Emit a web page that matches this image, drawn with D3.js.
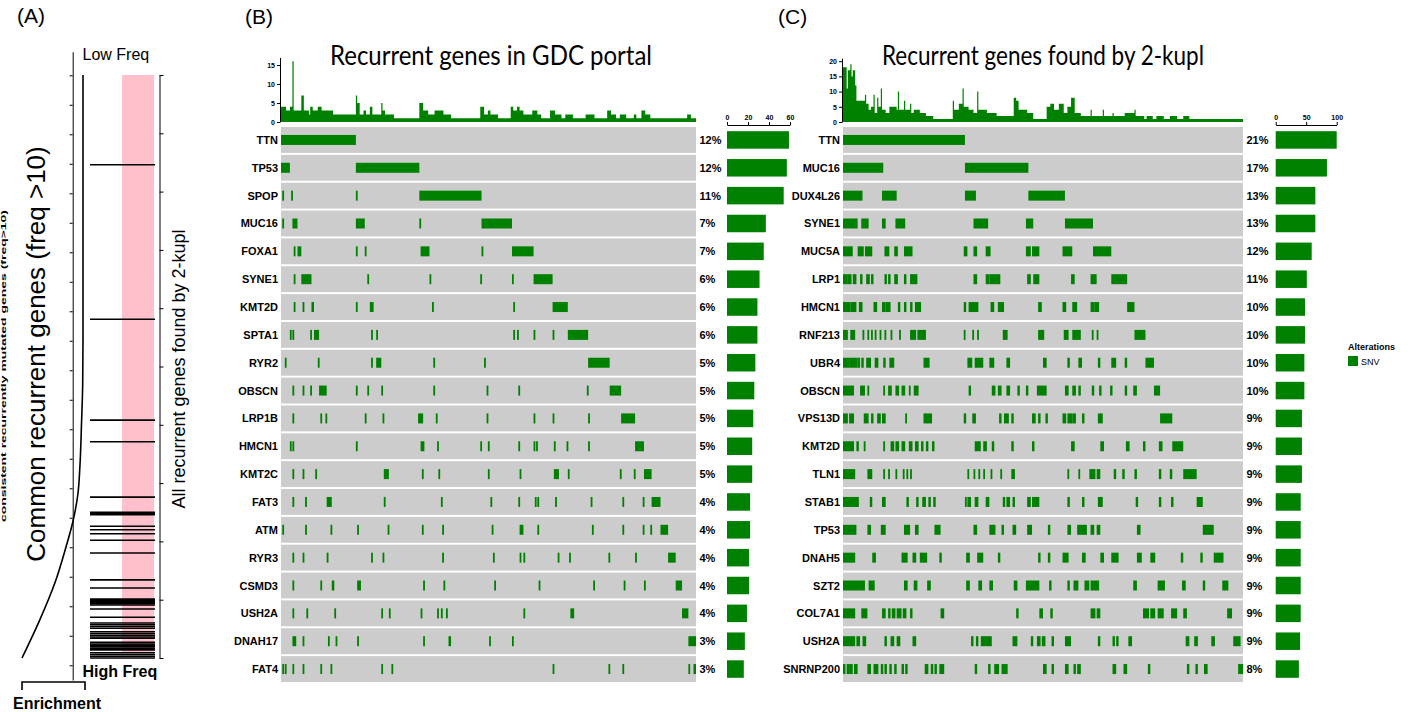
<!DOCTYPE html>
<meta charset="utf-8">
<style>
  body { margin: 0; background: #fff; }
  text { font-family: "Liberation Sans", Arial, sans-serif; fill: #000; }
  .gene, .pct { font-size: 11px; font-weight: bold; }
  .title { font-family: Lato, "Open Sans", sans-serif; font-size: 26px; }
  .panel { font-size: 21px; }
  .axis text { font-size: 7px; font-weight: bold; font-family: "Liberation Sans", Arial, sans-serif; }
  .axis path, .axis line { stroke: #000; }
</style>

<body>
  <script src="https://d3js.org/d3.v7.min.js"></script>
  <script>

    // ---------- panel B : recurrent genes in GDC portal ----------
    var nB = 327;   // altered samples shown
    var genesB = ["TTN", "TP53", "SPOP", "MUC16", "FOXA1", "SYNE1", "KMT2D", "SPTA1", "RYR2", "OBSCN",
      "LRP1B", "HMCN1", "KMT2C", "FAT3", "ATM", "RYR3", "CSMD3", "USH2A", "DNAH17", "FAT4"];
    var pctB = ["12%", "12%", "11%", "7%", "7%", "6%", "6%", "6%", "5%", "5%",
      "5%", "5%", "5%", "4%", "4%", "4%", "4%", "4%", "3%", "3%"];
    var countB = [59, 57, 54, 37, 35, 31, 29, 29, 27, 26, 25, 24, 24, 22, 22, 21, 21, 19, 17, 16];
    // mutated samples per gene: single index or [from, to]
    var mutB = [
      [[0, 58]],
      [[0, 6], [59, 108]],
      [1, 8, 59, [109, 157]],
      [1, [9, 12], [59, 65], 109, [158, 181]],
      [10, [13, 15], 59, 66, [110, 116], 158, [182, 198]],
      [10, [16, 23], 68, 117, 157, 182, [199, 213]],
      [10, 17, [24, 25], 59, [70, 72], 119, 183, [214, 225]],
      [7, 9, 23, [26, 29], 71, 75, 183, 186, 199, 214, [226, 241]],
      [3, 29, 71, [75, 78], 120, 160, [242, 258]],
      [9, 17, 23, [30, 35], 59, 68, 79, 120, 162, 187, 241, [259, 267]],
      [9, 31, 35, 66, 80, [108, 111], 122, 162, 199, 214, 242, [268, 278]],
      [7, 9, 59, [110, 112], 123, 157, 163, 187, 199, 201, 215, 225, 242, [279, 285]],
      [9, 17, 27, [81, 84], 111, 124, 163, 188, [215, 218], 226, 267, 278, [286, 291]],
      [9, 19, [36, 39], 81, 126, 165, 187, 200, 202, 216, 244, 269, 285, [292, 298]],
      [1, 19, 39, 60, 84, 111, 127, 166, [188, 190], 202, 245, 269, 285, 291, [299, 304]],
      [9, 17, 36, 71, 80, 127, 167, 188, 191, 218, 227, 258, 279, [305, 310]],
      [9, 31, [40, 41], [60, 62], 112, 128, 168, 203, 246, 270, 286, [311, 315]],
      [9, 20, 42, 79, 85, 110, 123, 126, 130, 191, [228, 230], [316, 320]],
      [[9, 11], 17, 37, 43, 60, 112, [132, 133], 164, 182, [321, 326]],
      [1, 3, 9, 17, 31, 39, 79, 87, 214, 258, 269, 321, [325, 326]]
    ];
    // alterations per sample: [from, to, count]; samples not listed carry 1
    var histB = [
      [0, 3, 4], [4, 6, 3], [7, 8, 4], [9, 9, 16], [10, 15, 3], [16, 17, 7], [18, 21, 3], [22, 22, 2],
      [23, 24, 4], [25, 28, 3], [29, 31, 4], [32, 40, 3], [41, 58, 2], [59, 59, 7], [60, 61, 5],
      [62, 64, 2], [65, 66, 3], [67, 69, 2], [70, 71, 4], [72, 78, 2], [79, 79, 5], [80, 81, 3],
      [82, 88, 2], [109, 111, 5], [112, 115, 3], [116, 120, 2], [121, 127, 3], [128, 133, 2],
      [157, 159, 4], [160, 162, 2], [163, 164, 3], [165, 170, 2], [181, 182, 4], [183, 185, 3],
      [186, 187, 4], [188, 190, 3], [191, 197, 2], [198, 201, 3], [202, 204, 2], [212, 215, 3],
      [216, 220, 2], [224, 229, 2], [240, 246, 2], [257, 259, 3], [260, 263, 2], [267, 271, 2],
      [278, 279, 2], [284, 286, 3], [287, 290, 2], [320, 322, 2]
    ];

    // ---------- panel C : recurrent genes found by 2-kupl ----------
    var nC = 328;
    var genesC = ["TTN", "MUC16", "DUX4L26", "SYNE1", "MUC5A", "LRP1", "HMCN1", "RNF213", "UBR4", "OBSCN",
      "VPS13D", "KMT2D", "TLN1", "STAB1", "TP53", "DNAH5", "SZT2", "COL7A1", "USH2A", "SNRNP200"];
    var pctC = ["21%", "17%", "13%", "13%", "12%", "11%", "10%", "10%", "10%", "10%",
      "9%", "9%", "9%", "9%", "9%", "9%", "9%", "9%", "9%", "8%"];
    var countC = [100, 84, 65, 65, 59, 51, 48, 48, 47, 47, 43, 43, 43, 41, 41, 41, 41, 41, 40, 38];
    var mutC = [
      [[0, 99]],
      [[0, 32], [100, 151]],
      [[0, 15], [32, 43], [100, 108], [152, 181]],
      [[0, 11], [15, 20], [32, 34], [43, 50], [107, 118], [150, 155], [182, 204]],
      [[0, 7], [12, 16], [18, 23], [34, 37], [42, 44], [50, 56], [99, 101], [107, 109], [117, 120],
        [150, 153], [155, 160], [180, 187], [205, 219]],
      [[0, 3], [4, 6], [8, 10], [14, 15], [19, 21], [23, 24], [34, 35], [37, 38], [42, 44], [50, 51],
        [55, 60], [107, 109], [117, 119], [120, 128], [151, 153], [156, 160], [187, 189], [203, 207], [220, 232]],
      [[0, 5], [6, 10], [13, 15], [25, 27], [32, 34], [35, 38], [45, 46], [50, 51], [55, 56], [59, 63],
        [99, 100], [103, 110], [121, 123], [127, 131], [160, 162], [180, 182], [188, 191], [203, 205],
        [206, 209], [233, 238]],
      [[0, 3], [6, 9], 16, 20, 23, 26, 30, 34, 39, 46, [55, 59], [61, 67], 99, 106, 110, [131, 134],
        [160, 164], [181, 184], [188, 194], 204, 208, [239, 247]],
      [[0, 4], [5, 8], [9, 11], [12, 13], [15, 16], [19, 22], [26, 28], [33, 34], [38, 41], [66, 70],
        [102, 105], [108, 114], [120, 123], [134, 136], [164, 166], [184, 185], [193, 195], [209, 210],
        [220, 223], [231, 232], [248, 254]],
      [[0, 8], [14, 17], 20, 33, [37, 39], [43, 45], [48, 50], 54, [58, 61], [103, 104], [122, 124],
        [127, 129], [134, 136], [143, 144], [150, 151], [159, 166], [182, 184], [188, 190], [193, 194],
        [204, 205], [210, 211], [219, 220], [231, 232], [238, 240], [255, 259]],
      [[0, 3], [5, 8], [17, 20], [23, 24], [28, 30], [32, 34], 51, [66, 72], [99, 100], [106, 108],
        [128, 129], [132, 135], [138, 139], [155, 157], [160, 161], [166, 167], [180, 182], [184, 187],
        [188, 190], [196, 197], [209, 212], [260, 269]],
      [[0, 8], [11, 12], 17, 33, [39, 41], [43, 45], [48, 50], [54, 56], [59, 61], [64, 65], [68, 69],
        [73, 74], [108, 112], [115, 117], [122, 123], [138, 139], [155, 156], [187, 189], [211, 213],
        [232, 234], [246, 247], [259, 261], [270, 278]],
      [[0, 9], [20, 23], 33, 37, 43, 49, 52, 55, 102, 107, 111, 115, 121, 129, [138, 140], 184, 193,
        [202, 206], [208, 210], [222, 223], [229, 230], [239, 240], [259, 260], [268, 269], [279, 289]],
      [[0, 12], [22, 23], [32, 34], [52, 53], [60, 61], [65, 67], [70, 71], [74, 75], 100, [102, 104],
        [108, 110], [117, 119], [131, 132], [134, 136], [139, 140], [151, 153], [155, 160], [184, 185],
        [196, 197], [209, 212], [240, 241], [259, 260], [269, 270], [290, 294]],
      [[0, 10], [20, 22], [31, 34], [50, 54], [59, 61], [75, 79], [107, 109], [120, 124], [130, 131],
        [139, 141], [151, 154], [168, 169], [184, 186], [192, 199], [203, 205], [208, 210], [241, 243],
        [295, 303]],
      [[0, 9], [24, 26], [48, 52], [57, 59], [63, 68], [79, 80], [101, 103], [110, 114], [127, 128],
        [160, 161], [168, 169], [180, 184], [196, 198], [211, 213], [220, 225], [241, 244], [252, 255],
        [277, 278], [293, 294], [304, 311]],
      [[0, 17], [21, 25], [50, 52], [58, 60], [69, 71], [101, 103], [111, 113], [120, 122], [140, 142],
        [150, 154], [155, 160], [169, 170], [184, 185], [189, 192], [198, 201], [203, 209], [238, 240],
        [258, 263], [278, 280], [295, 296], [311, 315]],
      [[0, 9], [15, 19], [32, 34], [37, 38], [40, 42], [44, 47], [49, 51], [55, 56], [80, 82],
        [142, 143], [161, 163], [170, 171], [203, 206], [208, 210], [246, 250], [252, 255], [258, 262],
        [269, 273], [279, 281], [315, 318]],
      [[0, 9], [11, 13], [16, 18], [34, 35], [39, 41], [44, 46], [57, 59], [105, 106], [109, 110],
        [113, 121], [139, 142], [154, 155], [159, 161], [163, 165], [171, 172], [182, 186], [209, 210],
        [221, 222], [224, 225], [234, 236], [281, 283], [288, 290], [302, 304], [320, 325]],
      [[0, 1], [3, 4], [5, 7], [9, 11], [20, 22], [25, 28], [31, 32], [34, 35], [38, 39], [42, 43],
        [48, 49], [51, 52], [67, 69], [72, 73], [75, 76], [79, 82], [108, 109], [119, 120], [124, 127],
        [130, 134], [164, 166], [171, 172], [182, 184], [189, 190], [192, 194], [221, 223], [230, 232],
        [250, 251], [282, 283], [289, 290], [296, 298], [324, 327]]
    ];
    var histC = [
      [0, 2, 18], [3, 3, 11], [4, 5, 17], [6, 6, 19], [7, 7, 15], [8, 9, 17], [10, 10, 12], [11, 14, 7],
      [15, 17, 7], [18, 18, 9], [19, 20, 6], [21, 22, 4], [23, 24, 5], [25, 25, 9], [26, 27, 3],
      [28, 28, 8], [29, 30, 5], [31, 31, 11], [32, 34, 4], [35, 37, 3], [38, 43, 5], [44, 44, 4],
      [45, 45, 10], [46, 49, 4], [50, 50, 7], [51, 54, 4], [55, 55, 6], [56, 57, 3], [58, 62, 4],
      [63, 67, 3], [68, 73, 2], [90, 90, 7], [91, 94, 4], [95, 97, 6], [98, 98, 11], [99, 102, 5],
      [103, 106, 4], [107, 109, 3], [110, 110, 10], [111, 117, 4], [118, 125, 3], [126, 139, 2],
      [140, 141, 8], [142, 143, 7], [144, 150, 4], [151, 155, 3], [167, 169, 5], [170, 172, 6],
      [173, 176, 4], [177, 180, 6], [181, 183, 3], [184, 186, 5], [187, 189, 8], [190, 194, 3],
      [195, 202, 2], [203, 203, 4], [204, 212, 2], [213, 213, 4], [214, 220, 2], [221, 221, 3],
      [222, 230, 2], [231, 238, 3], [239, 239, 4], [240, 246, 2], [249, 253, 2], [257, 262, 2],
      [268, 273, 2], [279, 283, 2]
    ];

    // ---------- panel A : enrichment of common recurrent genes ----------
    // running enrichment along the 2-kupl ranking (rank out of 1000)
    var curveRank = [0, 455, 530, 600, 670, 720, 768, 810, 871, 935, 1000];
    var curveScore = [1, 1, 0.995, 0.975, 0.95, 0.915, 0.83, 0.72, 0.54, 0.29, 0];
    // ranks of common recurrent genes in the 2-kupl list
    var hitRank = [154, 419, 592, 629, 724, 750, 752, 754, 774, 780, 787, 798, 820, 866, 880,
      899, 901, 903, 905, 907, 909, 916, 930, 940, 943, 946, 949, 955, 958, 961, 964, 966,
      973, 976, 978, 981, 984, 986, 991, 994, 997, 1000];

    var green = "#008000", grey = "#cccccc";

    var svg = d3.select("body").append("svg")
      .attr("width", 1416)
      .attr("height", 712);

    function segs(list) {
      return list.map(function (d) { return Array.isArray(d) ? d : [d, d]; });
    }

    function oncoprint(o) {
      var x = d3.scaleBand().domain(d3.range(o.n)).range([o.x0, o.x1]);
      var bw = x.bandwidth();
      var y = d3.scaleBand().domain(d3.range(o.genes.length)).range([127, 682]).paddingInner(0.07);
      var g = svg.append("g");

      // rows
      g.selectAll("rect.row").data(o.genes).enter().append("rect")
        .attr("x", o.x0).attr("width", o.x1 - o.x0)
        .attr("y", function (d, i) { return y(i); })
        .attr("height", y.bandwidth())
        .attr("fill", grey);

      o.muts.forEach(function (list, i) {
        g.selectAll(null).data(segs(list)).enter().append("rect")
          .attr("x", function (d) { return x(d[0]); })
          .attr("width", function (d) { return Math.max(x(d[1]) + bw - x(d[0]), 1.8); })
          .attr("y", y(i) + (y.bandwidth() - 10) / 2)
          .attr("height", 10)
          .attr("fill", green);
      });

      // gene names and percentages
      g.selectAll("text.gene").data(o.genes).enter().append("text")
        .attr("class", "gene")
        .attr("x", o.x0 - 3)
        .attr("y", function (d, i) { return y(i) + y.bandwidth() / 2 + 4; })
        .attr("text-anchor", "end")
        .text(function (d) { return d; });
      g.selectAll("text.pct").data(o.pct).enter().append("text")
        .attr("class", "pct")
        .attr("x", o.x1 + 3.5)
        .attr("y", function (d, i) { return y(i) + y.bandwidth() / 2 + 4; })
        .text(function (d) { return d; });

      // right bar chart
      var xb = d3.scaleLinear().domain([0, o.barMax]).range([o.bx, o.bx1]);
      g.selectAll("rect.bar").data(o.counts).enter().append("rect")
        .attr("x", xb(0))
        .attr("width", function (d) { return xb(d) - xb(0); })
        .attr("y", function (d, i) { return y(i) + (y.bandwidth() - 17.5) / 2; })
        .attr("height", 17.5)
        .attr("fill", green);
      g.append("g").attr("class", "axis")
        .attr("transform", "translate(0,125)")
        .call(d3.axisTop(xb).tickValues(o.barTicks).tickSize(3).tickSizeOuter(0).tickPadding(2));

      // top histogram, drawn as a step area so the bars join up
      var vals = d3.range(o.n).map(function () { return 1; });
      o.hist.forEach(function (h) { for (var k = h[0]; k <= h[1]; k++) vals[k] = h[2]; });
      vals.push(vals[o.n - 1]);
      var yh = d3.scaleLinear().domain([0, o.histMax]).range([122, 122 - o.histMax * o.unit]);
      var area = d3.area()
        .x(function (d, i) { return i < o.n ? x(i) : o.x1; })
        .y0(yh(0))
        .y1(function (d) { return yh(d); })
        .curve(d3.curveStepAfter);
      g.append("path").datum(vals).attr("d", area).attr("fill", green);
      g.append("g").attr("class", "axis")
        .attr("transform", "translate(" + (o.x0 - 1) + ",0)")
        .call(d3.axisLeft(yh).tickValues(o.histTicks).tickSize(3).tickSizeOuter(0).tickPadding(2));

      svg.append("text").attr("class", "title")
        .attr("x", o.titleX).attr("y", 65)
        .attr("textLength", 322).attr("lengthAdjust", "spacingAndGlyphs")
        .text(o.title);
      svg.append("text").attr("class", "panel")
        .attr("x", o.labelX).attr("y", 24)
        .text(o.label);
    }

    oncoprint({
      n: nB, genes: genesB, muts: mutB, pct: pctB, counts: countB, hist: histB,
      x0: 281, x1: 696, bx: 727, bx1: 790, barMax: 60, barTicks: [0, 20, 40, 60],
      histMax: 17, unit: 3.8, histTicks: [0, 5, 10, 15],
      title: "Recurrent genes in GDC portal", titleX: 330, label: "(B)", labelX: 245
    });
    oncoprint({
      n: nC, genes: genesC, muts: mutC, pct: pctC, counts: countC, hist: histC,
      x0: 843, x1: 1243, bx: 1275.7, bx1: 1336.7, barMax: 100, barTicks: [0, 50, 100],
      histMax: 21, unit: 3.04, histTicks: [0, 5, 10, 15, 20],
      title: "Recurrent genes found by 2-kupl", titleX: 882, label: "(C)", labelX: 778
    });

    // legend
    svg.append("text").attr("x", 1348).attr("y", 350)
      .style("font-size", "9px").style("font-weight", "bold").text("Alterations");
    svg.append("rect").attr("x", 1348).attr("y", 356).attr("width", 10).attr("height", 10).attr("fill", green);
    svg.append("text").attr("x", 1361).attr("y", 365).style("font-size", "9px").text("SNV");

    // ---------- panel A drawing ----------
    var a = svg.append("g");
    var yA = d3.scaleLinear().domain([0, 1000]).range([75, 658]);
    var xA = d3.scaleLinear().domain([0, 1]).range([22, 83]);

    a.append("text").attr("class", "panel").attr("x", 17).attr("y", 23).text("(A)");

    // pink band and barcode
    a.append("rect").attr("x", 122).attr("width", 32)
      .attr("y", yA(0)).attr("height", yA(990) - yA(0))
      .attr("fill", "#ffc0cb");
    a.selectAll("line.hit").data(hitRank).enter().append("line")
      .attr("x1", 90).attr("x2", 155)
      .attr("y1", function (d) { return yA(d); })
      .attr("y2", function (d) { return yA(d); })
      .attr("stroke", "#000").attr("stroke-width", 1.6);

    // right rank axis
    a.append("g").attr("class", "axis")
      .attr("transform", "translate(159.5,0)")
      .call(d3.axisRight(yA).tickValues(d3.range(0, 1001, 100)).tickSize(4).tickSizeOuter(0).tickFormat(""));

    // left axis of the common genes
    var yL = d3.scaleLinear().domain([-0.8, 20.5]).range([51.7, 680]);
    a.append("g").attr("class", "axis")
      .attr("transform", "translate(72.7,0)")
      .call(d3.axisLeft(yL).tickValues(d3.range(0, 21)).tickSize(3).tickSizeOuter(0).tickFormat(""));

    // enrichment curve
    var line = d3.line()
      .x(function (d, i) { return xA(curveScore[i]); })
      .y(function (d) { return yA(d); })
      .curve(d3.curveMonotoneY);
    a.append("path").datum(curveRank)
      .attr("d", line)
      .attr("fill", "none").attr("stroke", "#000").attr("stroke-width", 1.6);

    // enrichment bracket
    a.append("path")
      .attr("d", "M" + xA(0) + ",690V682H85V690")
      .attr("fill", "none").attr("stroke", "#000").attr("stroke-width", 1.6);

    a.append("text").attr("x", 82.5).attr("y", 60).style("font-size", "16px").text("Low Freq");
    a.append("text").attr("x", 82.5).attr("y", 677).style("font-size", "16px").style("font-weight", "bold").text("High Freq");
    a.append("text").attr("x", 13).attr("y", 709).style("font-size", "16px").style("font-weight", "bold").text("Enrichment");

    a.append("text")
      .attr("transform", "translate(45,354) rotate(-90)")
      .attr("text-anchor", "middle")
      .style("font-size", "26px")
      .text("Common recurrent genes (freq >10)");
    a.append("text")
      .attr("transform", "translate(6,366) rotate(-90)")
      .attr("text-anchor", "middle")
      .attr("textLength", 312).attr("lengthAdjust", "spacingAndGlyphs")
      .style("font-size", "7px").style("font-weight", "bold")
      .text("consistent recurrently mutated genes (freq>10)");
    a.append("text")
      .attr("transform", "translate(185,369) rotate(-90)")
      .attr("text-anchor", "middle")
      .style("font-size", "18px")
      .text("All recurrent genes found by 2-kupl");

  </script>
</body>
